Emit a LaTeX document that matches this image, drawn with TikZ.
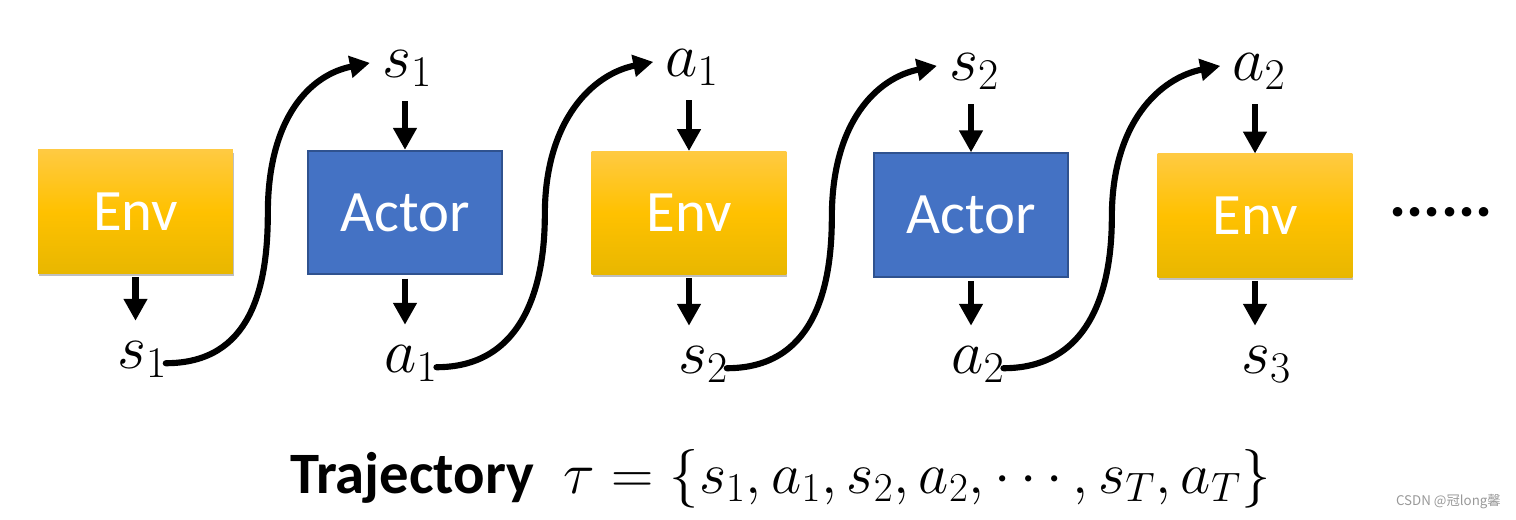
\RequirePackage{fix-cm}
\documentclass[tikz,border=0pt]{standalone}
\usepackage{fontspec}
\setmainfont{Carlito}
\newfontfamily\cjkfont{Noto Sans CJK SC}
\usetikzlibrary{arrows.meta,shadows,calc}
\definecolor{envtop}{HTML}{FFCA42}
\definecolor{envmid}{HTML}{FFC100}
\definecolor{envbot}{HTML}{E8B700}
\definecolor{actorfill}{HTML}{4472C4}
\definecolor{actorline}{HTML}{2F528F}
\begin{document}
\begin{tikzpicture}[x=0.75pt,y=-0.75pt,
  box/.style={minimum width=146pt, minimum height=92.5pt, inner sep=0pt, text=white,
    font=\fontsize{44}{50}\selectfont},
  envbox/.style={box, top color=envtop, bottom color=envbot, middle color=envmid,
    drop shadow={shadow xshift=0.8pt, shadow yshift=-2pt, opacity=0.25, fill=black}},
  actorbox/.style={box, fill=actorfill, draw=actorline, line width=1.5pt},
  lab/.style={font=\fontsize{47}{56}\selectfont, inner sep=0pt, anchor=base},
  down/.style={-{Triangle[length=16.5pt,width=17pt]}, line width=5.2pt},
  flow/.style={-{Triangle[length=15pt,width=16pt]}, line width=4.6pt, line cap=round}]
\useasboundingbox (0,0) rectangle (1516,519);

% boxes
\node[envbox]   (env1) at (135.5,211.5) {Env};
\node[actorbox] (act1) at (405,212.5)   {Actor};
\node[envbox]   (env2) at (689,213)     {Env};
\node[actorbox] (act2) at (971,215)     {Actor};
\node[envbox]   (env3) at (1255,215.5)  {Env};

% top labels
\node[lab] (s1t) at (407,77) {$s_1$};
\node[lab] (a1t) at (692,76) {$a_1$};
\node[lab] (s2t) at (974,80) {$s_2$};
\node[lab] (a2t) at (1259,80) {$a_2$};

% bottom labels
\node[lab] (s1b) at (142,368) {$s_1$};
\node[lab] (a1b) at (411,372) {$a_1$};
\node[lab] (s2b) at (703,373) {$s_2$};
\node[lab] (a2b) at (978,373) {$a_2$};
\node[lab] (s3b) at (1266,373) {$s_3$};

% vertical arrows
\foreach \b/\l in {env1/s1b, act1/a1b, env2/s2b, act2/a2b, env3/s3b}
  \draw[down, shorten <=2.5pt, shorten >=15pt] (\b.south) -- (\b.south |- \l.north);
\foreach \l/\b in {s1t/act1, a1t/env2, s2t/act2, a2t/env3}
  \draw[down, shorten <=11pt, shorten >=0pt] (\b.north |- \l.south) -- (\b.north);

% S-shaped connectors
\foreach \a/\b in {s1b/s1t, a1b/a1t, s2b/s2t, a2b/a2t}
  \draw[flow] ([xshift=-1pt,yshift=-3pt]\a.east)
     .. controls +(85,0) and +(0,75) .. ($([xshift=-1pt,yshift=-3pt]\a.east)!0.5!([xshift=-9pt,yshift=4pt]\b.west)$)
     .. controls +(0,-95) and +(-60,12) .. ([xshift=-9pt,yshift=4pt]\b.west);

% dots
\node[inner sep=0pt, font=\bfseries\fontsize{48}{56}\selectfont] (dots) at (1441,212) {......};

% trajectory
\node[inner sep=0pt, anchor=base west, font=\fontsize{44}{52}\selectfont] (traj) at (290,493)
  {\textbf{Trajectory}\hspace{0.5em}$\tau=\{s_1,a_1,s_2,a_2,\cdots,s_T,a_T\}$};

% watermark
\node[inner sep=0pt, anchor=base east, text=black!40, font=\cjkfont\fontsize{10}{12}\selectfont] (wm) at (1501,505) {CSDN @冠long馨};
\end{tikzpicture}
\end{document}
